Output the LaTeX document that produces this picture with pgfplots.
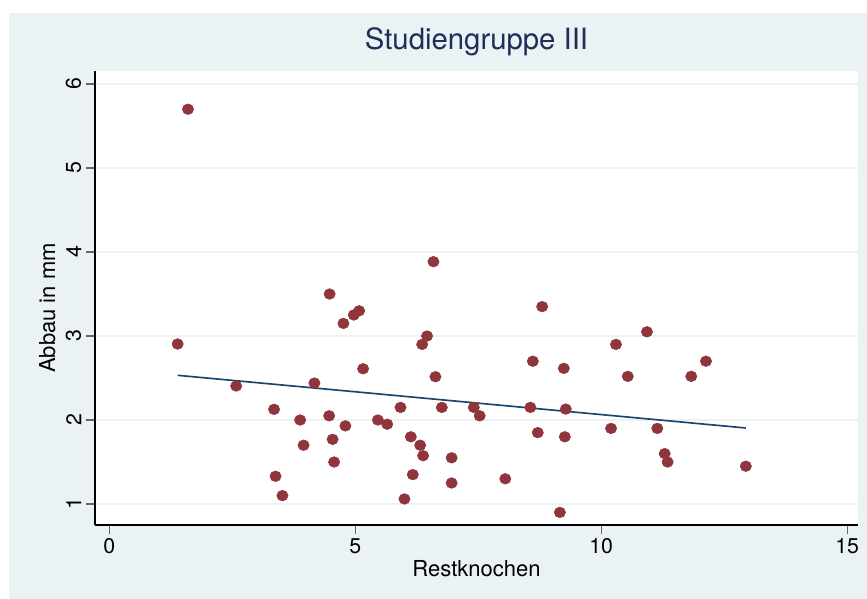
\documentclass[border=0pt]{standalone}
\usepackage{fontspec}
\setmainfont{TeX Gyre Heros}
\usepackage{pgfplots}
\pgfplotsset{compat=1.18}
\definecolor{stbg}{RGB}{234,242,243}
\definecolor{stmaroon}{RGB}{144,53,59}
\definecolor{stnavy}{RGB}{26,71,111}
\definecolor{sttitle}{RGB}{30,45,90}

\begin{document}
\begin{tikzpicture}
% page 867x599 px at 0.75pt per px
\fill[white] (0,0) rectangle (650.25pt,-449.25pt);
\fill[stbg] (6.75pt,-9.75pt) rectangle (650.25pt,-449.25pt);
\begin{axis}[
    at={(71.25pt,-393.75pt)}, anchor=south west,
    scale only axis, width=572.25pt, height=340.5pt,
    xmin=-0.29, xmax=15.22, ymin=0.75, ymax=6.155,
    axis lines=left,
    axis line style={-, black, line width=0.8pt},
    axis background/.style={fill=white},
    xtick={0,5,10,15}, ytick={1,2,3,4,5,6},
    tick align=outside, major tick length=6.75pt,
    tick style={black!60, line width=0.8pt},
    /pgf/number format/assume math mode=true,
    tick label style={font=\fontsize{16}{19}\selectfont},
    yticklabel style={rotate=90, anchor=south},
    ymajorgrids, grid style={stbg, line width=1.3pt},
    title={Studiengruppe III},
    title style={font=\fontsize{22}{26}\selectfont, color=sttitle,
        at={(axis description cs:0.5,1)}, anchor=base, yshift=10.3pt},
    xlabel={Restknochen},
    xlabel style={font=\fontsize{16.5}{19}\selectfont,
        at={(axis description cs:0.5,0)}, anchor=base, yshift=-38.8pt},
    ylabel={Abbau in mm},
    ylabel style={font=\fontsize{16.5}{19}\selectfont,
        at={(axis description cs:-0.0524,0.478)}, anchor=base},
]
\addplot[only marks, mark=*, color=stmaroon, mark size=4pt,
    mark options={fill=stmaroon, draw=stmaroon, xscale=1.06}] coordinates {
    (1.39,2.905) (1.60,5.70) (2.58,2.405) (3.35,2.127) (3.38,1.33)
    (3.52,1.10) (3.88,2.00) (3.95,1.70) (4.17,2.44) (4.48,3.50)
    (4.47,2.05) (4.54,1.77) (4.57,1.50) (4.76,3.15) (4.80,1.93)
    (4.97,3.25) (5.08,3.30) (5.16,2.61) (5.46,2.00) (5.65,1.95)
    (5.92,2.15) (6.00,1.06) (6.13,1.80) (6.17,1.35) (6.32,1.70)
    (6.36,2.90) (6.38,1.575) (6.46,3.00) (6.59,3.885) (6.63,2.515)
    (6.76,2.15) (6.96,1.55) (6.96,1.25) (7.41,2.15) (7.53,2.05)
    (8.05,1.30) (8.56,2.15) (8.61,2.70) (8.71,1.85) (8.80,3.35)
    (9.16,0.90) (9.24,2.615) (9.26,1.80) (9.28,2.13) (10.20,1.90)
    (10.30,2.90) (10.54,2.52) (10.93,3.05) (11.14,1.90) (11.29,1.60)
    (11.35,1.50) (11.83,2.52) (12.13,2.70) (12.94,1.45)
};
\addplot[stnavy, line width=1.25pt] coordinates {
    (1.39,2.532) (12.94,1.905)
};
\end{axis}
\end{tikzpicture}
\end{document}
